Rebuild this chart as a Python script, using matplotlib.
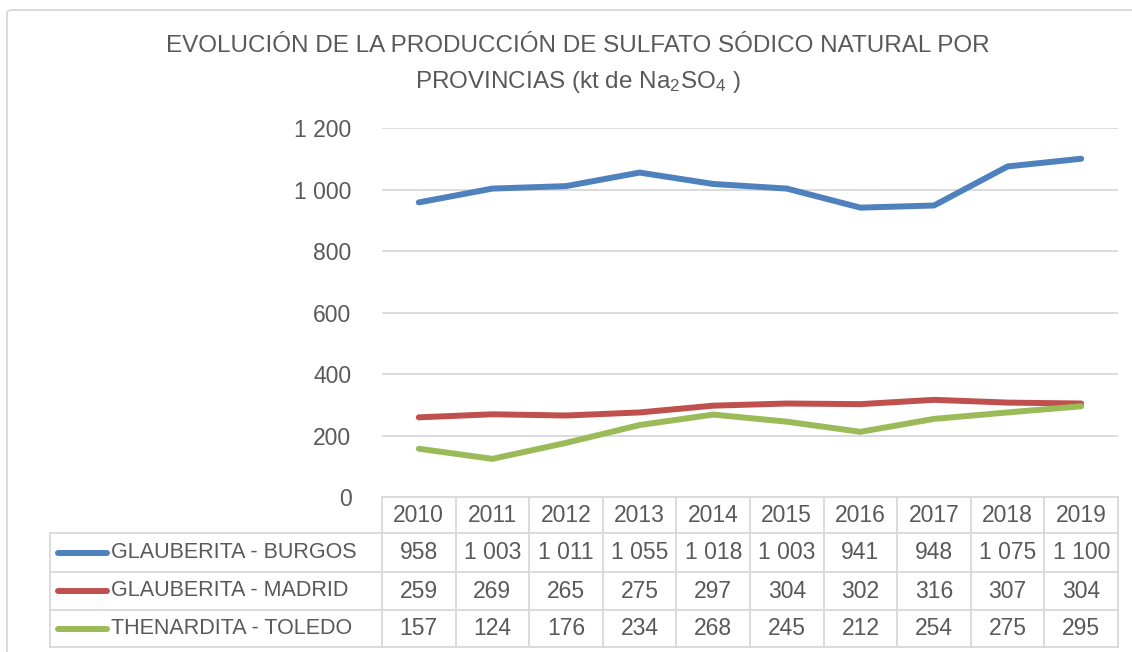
import matplotlib
matplotlib.use('Agg')
import matplotlib.pyplot as plt
from matplotlib.transforms import blended_transform_factory
from matplotlib.patches import FancyBboxPatch

years = ['2010', '2011', '2012', '2013', '2014', '2015', '2016', '2017', '2018', '2019']
series_names = ['GLAUBERITA - BURGOS', 'GLAUBERITA - MADRID', 'THENARDITA - TOLEDO']
burgos = [958, 1003, 1011, 1055, 1018, 1003, 941, 948, 1075, 1100]
madrid = [259, 269, 265, 275, 297, 304, 302, 316, 307, 304]
toledo = [157, 124, 176, 234, 268, 245, 212, 254, 275, 295]
yticks = [0, 200, 400, 600, 800, 1000, 1200]

colors = ['#4F81BD', '#C0504D', '#9BBB59']
txt = '#595959'
grid = '#D9D9D9'

plt.rcParams['font.family'] = ['Liberation Sans', 'DejaVu Sans']
plt.rcParams['mathtext.fontset'] = 'custom'
plt.rcParams['mathtext.rm'] = 'Liberation Sans'
plt.rcParams['mathtext.default'] = 'rm'

W, H = 1132, 652
fig = plt.figure(figsize=(W / 100, H / 100), dpi=100)

# chart border
fig.patches.append(FancyBboxPatch((7 / W, -0.05), 1.2, 1 - 10 / H + 0.05,
                                  boxstyle='round,pad=0,rounding_size=0.005',
                                  transform=fig.transFigure, fill=False,
                                  ec=grid, lw=1.3))

top, bot = 128, 497
ax = fig.add_axes([382 / W, 1 - bot / H, (1118 - 382) / W, (bot - top) / H])

def ypx(p):
    # pixel row -> axes fraction
    return (bot - p) / (bot - top)

x = list(range(len(years)))
for vals, c in zip([burgos, madrid, toledo], colors):
    ax.plot(x, vals, color=c, lw=4.3, solid_capstyle='round', zorder=3)

ax.set_xlim(-0.5, len(years) - 0.5)
ax.set_ylim(0, 1200)
ax.set_yticks(yticks)
ax.set_yticklabels([f'{v:,}'.replace(',', ' ') for v in yticks])
ax.tick_params(axis='y', length=0, pad=22, labelsize=16.5, labelcolor=txt)
ax.set_xticks([])
ax.grid(axis='y', color=grid, lw=1.3)
for s in ax.spines.values():
    s.set_visible(False)

# data table
tr = blended_transform_factory(ax.transData, ax.transAxes)
rows = [497, 533, 572, 610, 647]
for i in range(len(years) + 1):
    ax.plot([i - 0.5, i - 0.5], [ypx(rows[0]), ypx(rows[-1])], color=grid, lw=1.3,
            transform=tr, clip_on=False)
for r in rows:
    ax.plot([-0.5, len(years) - 0.5], [ypx(r), ypx(r)], color=grid, lw=1.3,
            transform=tr, clip_on=False)
for r in rows[1:]:
    ax.plot([50 / W, 382 / W], [1 - r / H, 1 - r / H], color=grid, lw=1.3,
            transform=fig.transFigure, clip_on=False)
fig.add_artist(plt.Line2D([50 / W, 50 / W], [1 - rows[1] / H, 1 - rows[-1] / H],
                          color=grid, lw=1.3, transform=fig.transFigure))

fs = 16.5
for i, yr in enumerate(years):
    ax.text(i, ypx((rows[0] + rows[1]) / 2), yr, transform=tr, ha='center', va='center',
            fontsize=fs, color=txt, clip_on=False)
for k, (name, vals, c) in enumerate(zip(series_names, [burgos, madrid, toledo], colors)):
    yc = (rows[k + 1] + rows[k + 2]) / 2
    for i, v in enumerate(vals):
        ax.text(i, ypx(yc), f'{v:,}'.replace(',', ' '), transform=tr, ha='center',
                va='center', fontsize=fs, color=txt, clip_on=False)
    fig.add_artist(plt.Line2D([58 / W, 107 / W], [1 - yc / H, 1 - yc / H], color=c,
                              lw=4.3, solid_capstyle='round', transform=fig.transFigure))
    fig.text(111 / W, 1 - yc / H, name, ha='left', va='center', fontsize=15.5, color=txt)

fig.text(578 / W, 1 - 46 / H, 'EVOLUCIÓN DE LA PRODUCCIÓN DE SULFATO SÓDICO NATURAL POR',
         ha='center', va='center', fontsize=17.5, color=txt)
fig.text(578 / W, 1 - 82 / H, r'PROVINCIAS (kt de Na$_2$SO$_4$ )',
         ha='center', va='center', fontsize=17.5, color=txt)

fig.savefig('out.png', dpi=100)
